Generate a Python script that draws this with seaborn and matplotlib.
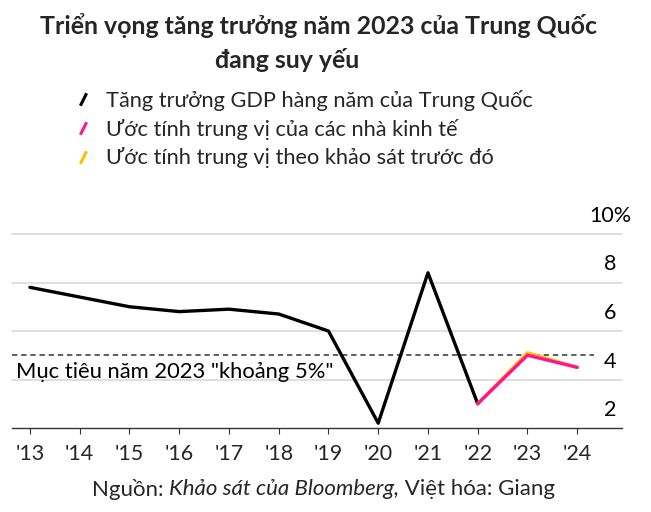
import matplotlib
matplotlib.use("Agg")
import matplotlib.pyplot as plt
import matplotlib.transforms as mtransforms
from matplotlib.lines import Line2D
import numpy as np
import pandas as pd
import seaborn as sns

# ---- data ----
gdp_years = [2013, 2014, 2015, 2016, 2017, 2018, 2019, 2020, 2021, 2022]
gdp_growth = [7.8, 7.4, 7.0, 6.8, 6.9, 6.7, 6.0, 2.2, 8.4, 3.0]
est_years = [2022, 2023, 2024]
est_current = [3.0, 5.0, 4.5]
est_prior = [3.0, 5.1, 4.5]
target = 5.0
tick_years = list(range(2013, 2025))
tick_labels = ["'13", "'14", "'15", "'16", "'17", "'18", "'19", "'20", "'21", "'22", "'23", "'24"]
y_ticks = [2, 4, 6, 8, 10]
y_labels = ["2", "4", "6", "8", "10%"]

series_names = ["Tăng trưởng GDP hàng năm của Trung Quốc",
                "Ước tính trung vị của các nhà kinh tế",
                "Ước tính trung vị theo khảo sát trước đó"]
colors = ["#000000", "#ff1493", "#ffc000"]

title_1 = "Triển vọng tăng trưởng năm 2023 của Trung Quốc"
title_2 = "đang suy yếu"
target_label = 'Mục tiêu năm 2023 "khoảng 5%"'
source_prefix = "Nguồn: "
source_italic = "Khảo sát của Bloomberg,"
source_suffix = " Việt hóa: Giang"

sns.set_theme(style="white")
FONT = ["Lato", "DejaVu Sans"]
plt.rcParams["font.family"] = FONT

df_gdp = pd.DataFrame({"year": gdp_years, "value": gdp_growth})
df_cur = pd.DataFrame({"year": est_years, "value": est_current})
df_pri = pd.DataFrame({"year": est_years, "value": est_prior})

W, H = 651, 512
fig = plt.figure(figsize=(W / 100, H / 100), dpi=100)
ax = fig.add_axes([12 / W, (H - 428) / H, 610 / W, (428 - 234) / H])

lw = 2.4
sns.lineplot(data=df_gdp, x="year", y="value", ax=ax, color=colors[0], lw=lw, zorder=3)
sns.lineplot(data=df_pri, x="year", y="value", ax=ax, color=colors[2], lw=lw, zorder=4)
sns.lineplot(data=df_cur, x="year", y="value", ax=ax, color=colors[1], lw=lw, zorder=5)

ax.set_xlim(2012.64, 2024.9)
ax.set_ylim(2, 10)
ax.set_xlabel("")
ax.set_ylabel("")

# grid
for v in y_ticks[1:]:
    ax.axhline(v, color="#d9d9d9", lw=1.2, zorder=1, clip_on=False)

blend = mtransforms.blended_transform_factory(ax.transAxes, ax.transData)

# target dashed line
ax.axhline(target, xmin=0, xmax=(594 - 12) / 610, color="#333333", lw=1.1,
           ls=(0, (3.5, 2.5)), zorder=2)
off = mtransforms.ScaledTranslation(0, -17 / 100, fig.dpi_scale_trans)
ax.text(4 / 610, target, target_label, transform=blend + off,
        ha="left", va="center", fontsize=15.8, color="black")

# spines
for s in ["top", "right", "left"]:
    ax.spines[s].set_visible(False)
ax.spines["bottom"].set_color("#333333")
ax.spines["bottom"].set_linewidth(1.0)

ax.set_xticks(tick_years)
ax.set_xticklabels(tick_labels, fontsize=15.5)
ax.tick_params(axis="x", direction="out", length=4.5, width=0.8, color="#333333", pad=7, bottom=True)
ax.set_yticks([])

# y labels sitting above grid lines
offy = mtransforms.ScaledTranslation(0, 18 / 100, fig.dpi_scale_trans)
for v, lab in zip(y_ticks, y_labels):
    ax.text((610 - 12) / 610, v, lab, transform=blend + offy, ha="center", va="center",
            fontsize=15.5, color="black")

# legend
handles = [Line2D([], [], color=c, ls="none", marker=[(-0.5, -1), (0.5, 1)],
                  markersize=9, markeredgewidth=2.2, markeredgecolor=c)
           for c in colors]
leg = fig.legend(handles, series_names, loc="upper left", bbox_to_anchor=(72 / W, 1 - 90 / H),
                 frameon=False, fontsize=15.7, handlelength=1.0, handletextpad=0.55,
                 labelspacing=0.35, borderaxespad=0, borderpad=0)

# title
fig.text(318 / W, 1 - 26 / H, title_1, ha="center", va="center", fontsize=17.9, fontweight="bold")
fig.text(287 / W, 1 - 60 / H, title_2, ha="center", va="center", fontsize=17.9, fontweight="bold")

# source
fs_src = 16
t1 = fig.text(92 / W, 1 - 489 / H, source_prefix, ha="left", va="center", fontsize=fs_src)
fig.canvas.draw()
r = fig.canvas.get_renderer()
bb = t1.get_window_extent(r)
t2 = fig.text(bb.x1 / W, 1 - 489 / H, source_italic, ha="left", va="center", fontsize=fs_src, style="italic")
bb2 = t2.get_window_extent(r)
fig.text(bb2.x1 / W, 1 - 489 / H, source_suffix, ha="left", va="center", fontsize=fs_src)

fig.savefig("out.png", dpi=100)
